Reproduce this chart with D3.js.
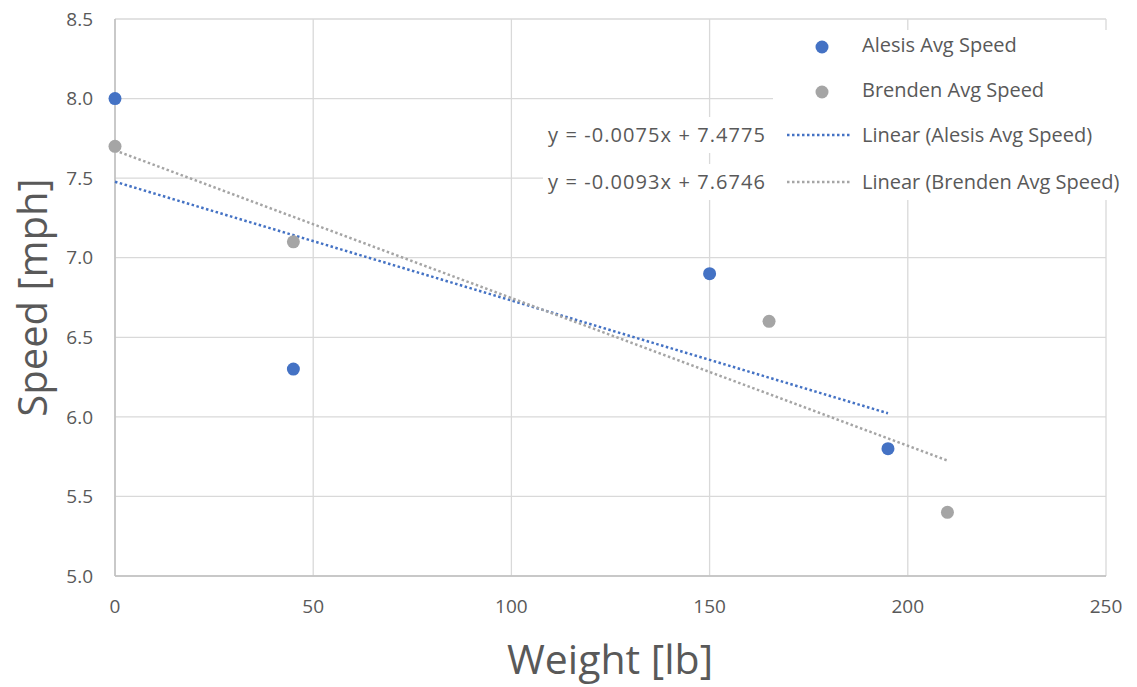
<!DOCTYPE html>
<html>
<head>
<meta charset="utf-8">
<script src="https://cdn.jsdelivr.net/npm/d3@7"></script>
<style>
body { margin: 0; background: #fff; font-family: "Open Sans", "Liberation Sans", sans-serif; }
svg text { fill: #595959; }
</style>
</head>
<body>
<svg id="chart"></svg>
<script>
// data
var alesisWeight = [0, 45, 150, 195];
var alesisSpeed = [8.0, 6.3, 6.9, 5.8];
var brendenWeight = [0, 45, 165, 210];
var brendenSpeed = [7.7, 7.1, 6.6, 5.4];
var seriesNames = ['Alesis Avg Speed', 'Brenden Avg Speed'];
var trendNames = ['Linear (Alesis Avg Speed)', 'Linear (Brenden Avg Speed)'];
var equations = ['y = -0.0075x + 7.4775', 'y = -0.0093x + 7.6746'];
var xTicks = [0, 50, 100, 150, 200, 250];
var yTicks = [5.0, 5.5, 6.0, 6.5, 7.0, 7.5, 8.0, 8.5];

var width = 1137, height = 687;
var margin = {top: 19, right: 31, bottom: 111, left: 115};
var w = width - margin.left - margin.right;
var h = height - margin.top - margin.bottom;

var blue = '#4472c4', gray = '#a5a5a5', grid = '#d9d9d9';

var svg = d3.select('#chart').attr('width', width).attr('height', height);
var origin = svg.append('g').attr('transform', 'translate(' + margin.left + ',' + margin.top + ')');

var x = d3.scaleLinear().domain([0, 250]).range([0, w]);
var y = d3.scaleLinear().domain([5, 8.5]).range([h, 0]);

//gridlines
origin.append('g').selectAll('line').data(yTicks).enter().append('line')
	.attr('x1', 0).attr('x2', w).attr('y1', function(d) { return y(d); }).attr('y2', function(d) { return y(d); })
	.attr('stroke', grid).attr('stroke-width', 1.3);
origin.append('g').selectAll('line').data(xTicks).enter().append('line')
	.attr('y1', 0).attr('y2', h).attr('x1', function(d) { return x(d); }).attr('x2', function(d) { return x(d); })
	.attr('stroke', grid).attr('stroke-width', 1.3);
//axis lines
origin.append('line').attr('x1', 0).attr('x2', w).attr('y1', h).attr('y2', h).attr('stroke', '#bfbfbf').attr('stroke-width', 1.5);
origin.append('line').attr('x1', 0).attr('x2', 0).attr('y1', 0).attr('y2', h).attr('stroke', '#bfbfbf').attr('stroke-width', 1.5);

//tick labels
origin.append('g').selectAll('text').data(yTicks).enter().append('text')
	.attr('x', -22).attr('y', function(d) { return y(d); }).attr('dy', '0.35em')
	.attr('text-anchor', 'end').style('font-size', '19px').text(function(d) { return d3.format('.1f')(d); });
origin.append('g').selectAll('text').data(xTicks).enter().append('text')
	.attr('x', function(d) { return x(d); }).attr('y', h + 37)
	.attr('text-anchor', 'middle').style('font-size', '19px').text(function(d) { return d; });

//least squares trendline over the data range
function fit(xs, ys) {
	var mx = d3.mean(xs), my = d3.mean(ys);
	var sxy = d3.sum(xs, function(v, i) { return (v - mx) * (ys[i] - my); });
	var sxx = d3.sum(xs, function(v) { return (v - mx) * (v - mx); });
	var m = sxy / sxx;
	var b = my - m * mx;
	var ext = d3.extent(xs);
	return ext.map(function(v) { return [v, m * v + b]; });
}
var line = d3.line().x(function(d) { return x(d[0]); }).y(function(d) { return y(d[1]); });
origin.append('path').datum(fit(alesisWeight, alesisSpeed)).attr('d', line)
	.attr('fill', 'none').attr('stroke', blue).attr('stroke-width', 2.5).style('stroke-dasharray', '2.5,2.5');
origin.append('path').datum(fit(brendenWeight, brendenSpeed)).attr('d', line)
	.attr('fill', 'none').attr('stroke', gray).attr('stroke-width', 2.5).style('stroke-dasharray', '2.5,2.5');

//points
origin.append('g').selectAll('circle').data(alesisWeight).enter().append('circle')
	.attr('cx', function(d) { return x(d); }).attr('cy', function(d, i) { return y(alesisSpeed[i]); })
	.attr('r', 6.5).attr('fill', blue);
origin.append('g').selectAll('circle').data(brendenWeight).enter().append('circle')
	.attr('cx', function(d) { return x(d); }).attr('cy', function(d, i) { return y(brendenSpeed[i]); })
	.attr('r', 6.5).attr('fill', gray);

//equation labels
var eqY = [135, 182];
equations.forEach(function(t, i) {
	svg.append('rect').attr('x', 543).attr('y', eqY[i] - 18).attr('width', 230).attr('height', 36).attr('fill', '#fff');
	svg.append('text').attr('x', 765).attr('y', eqY[i]).attr('dy', '0.35em').attr('text-anchor', 'end')
		.style('font-size', '20px').attr('textLength', 217).text(t);
});

//legend
var legend = svg.append('g');
legend.append('rect').attr('x', 773).attr('y', 30).attr('width', 336).attr('height', 170).attr('fill', '#fff');
var legY = [45, 90, 135, 182];
[blue, gray].forEach(function(c, i) {
	legend.append('circle').attr('cx', 822).attr('cy', legY[i] + 2).attr('r', 6.5).attr('fill', c);
	legend.append('text').attr('x', 862).attr('y', legY[i]).attr('dy', '0.35em').style('font-size', '20px').text(seriesNames[i]);
	legend.append('line').attr('x1', 787).attr('x2', 850).attr('y1', legY[i + 2]).attr('y2', legY[i + 2])
		.attr('stroke', c).attr('stroke-width', 2.5).style('stroke-dasharray', '2.5,2.5');
	legend.append('text').attr('x', 862).attr('y', legY[i + 2]).attr('dy', '0.35em').style('font-size', '20px').text(trendNames[i]);
});

//axis titles
svg.append('text').attr('transform', 'translate(47,' + (margin.top + h / 2) + ') rotate(-90)')
	.attr('text-anchor', 'middle').style('font-size', '40px').text('Speed [mph]');
svg.append('text').attr('x', 610).attr('y', 674)
	.attr('text-anchor', 'middle').style('font-size', '41px').text('Weight [lb]');
</script>
</body>
</html>
